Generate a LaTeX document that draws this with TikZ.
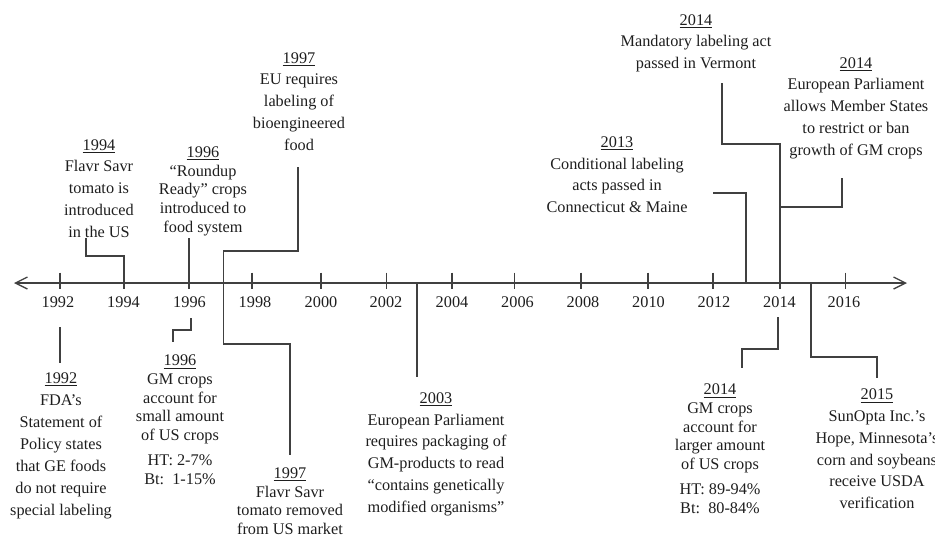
\documentclass[tikz,border=0pt]{standalone}
\usepackage{fontspec}
\setmainfont{Liberation Serif}
\usetikzlibrary{arrows.meta}
\definecolor{ln}{HTML}{404040}
\definecolor{tx}{HTML}{1E1E1E}
\newcommand\evfontA{\fontsize{12.2}{16.3}\selectfont}
\newcommand\evfontB{\fontsize{12.2}{14}\selectfont}
\newcommand\evfontC{\fontsize{12.2}{16.5}\selectfont}
\begin{document}
\begin{tikzpicture}[x=0.75pt,y=-0.75pt,
  line/.style={draw=ln,line width=1pt},
  evt/.style={align=center,inner sep=0pt,anchor=base,text=tx,font=\evfontA},
  evtight/.style={evt,font=\evfontB},
  evwide/.style={evt,font=\evfontC},
  yr/.style={anchor=base,inner sep=0pt,text=tx,font=\evfontA}]
\useasboundingbox (0,0) rectangle (935,536);
% axis
\coordinate (axL) at (14,283);
\coordinate (axR) at (907,283);
\draw[line,{Straight Barb[length=9pt,width=9pt]}-{Straight Barb[length=9pt,width=9pt]}] (axL) -- (axR);
\foreach \yy/\xx in {1992/60,1994/124,1996/189,1998/252,2000/321,2002/386.5,2004/452,2006/514.5,2008/581,2010/648,2012/713,2014/780,2016/845.5}{
  \coordinate (t\yy) at (\xx,283);
  \draw[line] (\xx,272.5) -- (\xx,289);
}
\foreach \yy/\xx in {1992/58,1994/123.5,1996/189.5,1998/255,2000/321,2002/386,2004/452,2006/517.5,2008/583,2010/648.5,2012/714,2014/779.5,2016/844}{
  \node[yr] (l\yy) at (\xx,307) {\yy};
}
\coordinate (ax1997) at (223.5,283);
\coordinate (ax2003) at (417,283);
\coordinate (ax2013) at (746,283);
\coordinate (ax2015) at (811,283);
% events above (anchor = baseline of last line)
\node[evt] (e1994) at (99,237) {\underline{1994}\\Flavr Savr\\tomato is\\introduced\\in the US};
\node[evtight] (e1996t) at (203,232) {\underline{1996}\\“Roundup\\Ready” crops\\introduced to\\food system};
\node[evt] (e1997t) at (299,150) {\underline{1997}\\EU requires\\labeling of\\bioengineered\\food};
\node[evt] (e2013) at (617,212.5) {\underline{2013}\\Conditional labeling\\acts passed in\\Connecticut \& Maine};
\node[evt] (e2014v) at (696,68.5) {\underline{2014}\\Mandatory labeling act\\passed in Vermont};
\node[evt] (e2014e) at (856,155) {\underline{2014}\\European Parliament\\allows Member States\\to restrict or ban\\growth of GM crops};
% events below
\node[evwide] (e1992) at (61,515) {\underline{1992}\\FDA’s\\Statement of\\Policy states\\that GE foods\\do not require\\special labeling};
\node[evtight] (e1996b) at (180,484.5) {\underline{1996}\\GM crops\\account for\\small amount\\of US crops\\[5pt]HT: 2-7\%\\Bt:\ \ 1-15\%};
\node[evtight] (e1997b) at (290,534.5) {\underline{1997}\\Flavr Savr\\tomato removed\\from US market};
\node[evt] (e2003) at (436,512) {\underline{2003}\\European Parliament\\requires packaging of\\GM-products to read\\“contains genetically\\modified organisms”};
\node[evtight] (e2014b) at (720,513.5) {\underline{2014}\\GM crops\\account for\\larger amount\\of US crops\\[5pt]HT: 89-94\%\\Bt:\ \ 80-84\%};
\node[evt] (e2015) at (877,508.5) {\underline{2015}\\SunOpta Inc.’s\\Hope, Minnesota’s\\corn and soybeans\\receive USDA\\verification};
% connector ends
\coordinate (c94) at (86,238);
\coordinate (c96t) at (189,238);
\coordinate (c97t) at (298,167);
\coordinate (c13) at (713,193);
\coordinate (c14v) at (722,83);
\coordinate (c14e) at (842,178);
\coordinate (j14) at (780,207);
\coordinate (c92a) at (60,327);
\coordinate (c92b) at (60,363);
\coordinate (c96b1) at (191,318);
\coordinate (c96b2) at (173,342);
\coordinate (c97b) at (290,455);
\coordinate (c03) at (417,377);
\coordinate (c14b1) at (778,317);
\coordinate (c14b2) at (742,368);
\coordinate (c15) at (877,378);
% connectors
\draw[line] (c94) -- ++(0,18) -| (t1994);
\draw[line] (c96t) -- (t1996);
\draw[line] (c97t) -- ++(0,84) -| (ax1997);
\draw[line] (c13) -| (ax2013);
\draw[line] (c14v) -- ++(0,61) -| (t2014);
\draw[line] (c14e) |- (j14);
\draw[line] (c92a) -- (c92b);
\draw[line] (c96b1) -- ++(0,12) -| (c96b2);
\draw[line] (ax1997) -- ++(0,61) -| (c97b);
\draw[line] (ax2003) -- (c03);
\draw[line] (c14b1) -- ++(0,32) -| (c14b2);
\draw[line] (ax2015) -- ++(0,74) -| (c15);
\end{tikzpicture}
\end{document}
